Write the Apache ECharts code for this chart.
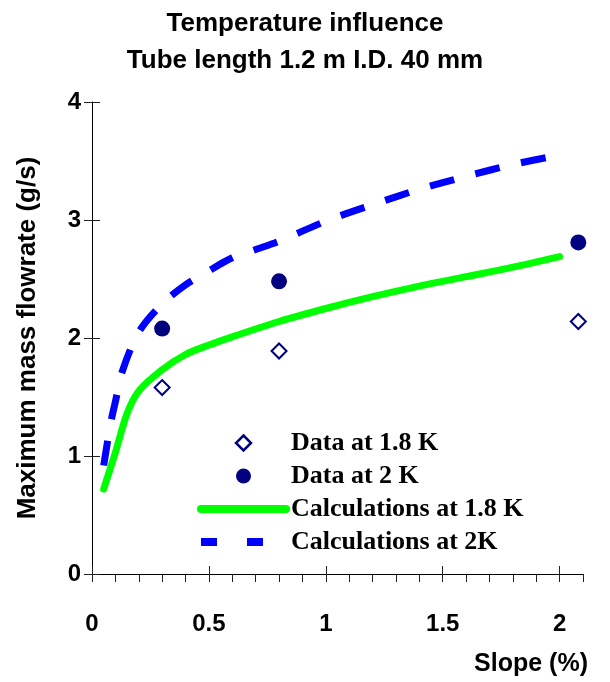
<!DOCTYPE html>
<html>
<head>
<meta charset="utf-8">
<title>Temperature influence</title>
<script src="https://cdn.jsdelivr.net/npm/echarts@6.0.0/dist/echarts.min.js"></script>
<style>
    html, body { margin: 0; padding: 0; background: #fff; }
    #main { width: 610px; height: 682px; }
</style>
</head>
<body>
<div id="main"></div>
<script>
// measured points, slope (%) -> max mass flowrate (g/s)
var data18K = [[0.3, 1.58], [0.8, 1.89], [2.08, 2.14]];
var data2K = [[0.3, 2.08], [0.8, 2.48], [2.08, 2.81]];

// calculated curves
var calc18K = [
    [0.05, 0.72], [0.1, 1.03], [0.15, 1.36], [0.2, 1.55], [0.3, 1.73],
    [0.4, 1.86], [0.5, 1.94], [0.6, 2.01], [0.8, 2.14], [1.0, 2.25],
    [1.2, 2.35], [1.4, 2.44], [1.6, 2.52], [1.8, 2.6], [2.0, 2.69]
];
var calc2K = [
    [0.05, 0.92], [0.08, 1.28], [0.1, 1.46], [0.13, 1.72], [0.2, 2.05],
    [0.3, 2.29], [0.4, 2.45], [0.5, 2.57], [0.6, 2.68], [0.7, 2.75],
    [0.8, 2.82], [1.0, 2.99], [1.2, 3.13], [1.4, 3.26], [1.6, 3.37],
    [1.8, 3.47], [2.0, 3.55]
];

var seriesNames = ['Data at 1.8 K', 'Data at 2 K', 'Calculations at 1.8 K', 'Calculations at 2K'];

var xMajorTicks = [0, 0.5, 1, 1.5, 2];
var xAllTicks = [0, 0.1, 0.2, 0.3, 0.4, 0.5, 0.6, 0.7, 0.8, 0.9, 1, 1.1, 1.2, 1.3, 1.4, 1.5,
    1.6, 1.7, 1.8, 1.9, 2, 2.1];

var sansBold = { fontFamily: 'Liberation Sans, Arial, sans-serif', fontWeight: 'bold', color: '#000' };
var navy = '#000080';

var myChart = echarts.init(document.getElementById('main'));
var option = {
    backgroundColor: '#fff',
    animation: false,
    title: {
        text: 'Temperature influence\nTube length 1.2 m I.D. 40 mm',
        left: 'center',
        top: 0,
        textStyle: Object.assign({ fontSize: 26, lineHeight: 37 }, sansBold)
    },
    legend: {
        orient: 'vertical',
        left: 197,
        top: 430,
        padding: 0,
        itemWidth: 85,
        itemHeight: 15,
        itemGap: 7,
        textStyle: {
            fontFamily: 'Liberation Serif, Times New Roman, serif',
            fontWeight: 'bold',
            fontSize: 26,
            color: '#000'
        },
        data: [
            {
                name: seriesNames[0],
                icon: 'path://M0,-1L1,0L0,1L-1,0Z',
                itemStyle: { color: '#fff', borderColor: navy, borderWidth: 2.5 }
            },
            { name: seriesNames[1], icon: 'circle' },
            {
                name: seriesNames[2],
                lineStyle: { width: 8, cap: 'round' },
                itemStyle: { opacity: 0 }
            },
            {
                name: seriesNames[3],
                lineStyle: { width: 8, type: [16, 30], cap: 'butt' },
                itemStyle: { opacity: 0 }
            }
        ]
    },
    grid: {
        left: 92,
        right: 27,
        top: 102,
        bottom: 108
    },
    xAxis: [
        {
            type: 'value',
            min: 0,
            max: 2.1,
            interval: 0.5,
            name: 'Slope (%)',
            nameLocation: 'end',
            nameGap: 5,
            nameTextStyle: Object.assign({
                fontSize: 25,
                align: 'right',
                verticalAlign: 'top',
                padding: [78, 0, 0, 0]
            }, sansBold),
            axisLine: { lineStyle: { color: '#000', width: 1 } },
            axisTick: {
                inside: false,
                length: 8,
                customValues: xAllTicks,
                lineStyle: { color: '#222' }
            },
            axisLabel: Object.assign({
                fontSize: 24,
                margin: 38,
                customValues: xMajorTicks
            }, sansBold),
            splitLine: { show: false }
        },
        {
            // upper half of the major ticks
            type: 'value',
            position: 'bottom',
            min: 0,
            max: 2.1,
            interval: 0.5,
            axisLine: { show: false },
            axisTick: {
                inside: true,
                length: 8,
                customValues: xMajorTicks,
                lineStyle: { color: '#222' }
            },
            axisLabel: { show: false },
            splitLine: { show: false }
        }
    ],
    yAxis: [
        {
            type: 'value',
            min: 0,
            max: 4,
            interval: 1,
            name: 'Maximum mass flowrate (g/s)',
            nameLocation: 'middle',
            nameGap: 51,
            nameTextStyle: Object.assign({ fontSize: 26 }, sansBold),
            axisLine: { show: true, lineStyle: { color: '#000', width: 1 } },
            axisTick: { show: true, inside: false, length: 8, lineStyle: { color: '#222' } },
            axisLabel: Object.assign({ fontSize: 24, margin: 11 }, sansBold),
            splitLine: { show: false }
        },
        {
            type: 'value',
            position: 'left',
            min: 0,
            max: 4,
            interval: 1,
            axisLine: { show: false },
            axisTick: { show: true, inside: true, length: 8, lineStyle: { color: '#222' } },
            axisLabel: { show: false },
            splitLine: { show: false }
        }
    ],
    series: [
        {
            name: seriesNames[0],
            type: 'scatter',
            symbol: 'emptyDiamond',
            symbolSize: 15,
            itemStyle: { color: navy, borderWidth: 3, opacity: 1 },
            data: data18K,
            z: 5
        },
        {
            name: seriesNames[1],
            type: 'scatter',
            symbol: 'circle',
            symbolSize: 16,
            itemStyle: { color: navy, opacity: 1 },
            data: data2K,
            z: 5
        },
        {
            name: seriesNames[2],
            type: 'line',
            symbol: 'none',
            smooth: 0.3,
            lineStyle: { color: '#00ff00', width: 7, cap: 'round', join: 'round' },
            itemStyle: { color: '#00ff00' },
            data: calc18K
        },
        {
            name: seriesNames[3],
            type: 'line',
            symbol: 'none',
            smooth: 0.3,
            lineStyle: { color: '#0000ff', width: 7, type: [25, 22] },
            itemStyle: { color: '#0000ff' },
            data: calc2K
        }
    ]
};

myChart.setOption(option);
</script>
</body>
</html>
